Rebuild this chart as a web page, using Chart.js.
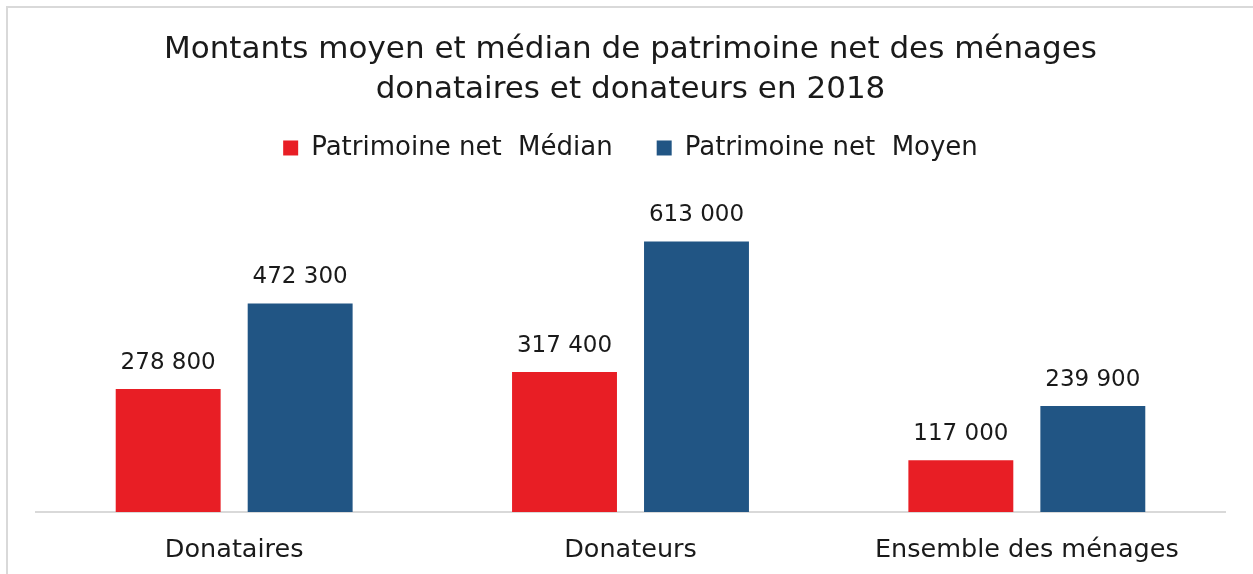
<!DOCTYPE html>
<html>
<head>
<meta charset="utf-8">
<script src="https://cdn.jsdelivr.net/npm/chart.js@4.4.1/dist/chart.umd.min.js"></script>
<style>
  html, body { margin: 0; padding: 0; background: #fff; overflow: hidden; }
  #frame { position: absolute; left: 6px; top: 6px; width: 1247px; height: 568px;
    border-left: 2px solid #d9d9d9; border-top: 2px solid #d9d9d9; box-sizing: border-box; }
  #wrap { position: absolute; left: 0; top: 0; width: 1253px; height: 574px; }
</style>
</head>
<body>
<div id="frame"></div>
<div id="wrap"><canvas id="chart"></canvas></div>
<script>
// categories et series
const categories = ['Donataires', 'Donateurs', 'Ensemble des ménages']
const medianValues = [278800, 317400, 117000]
const meanValues = [472300, 613000, 239900]
const seriesLabels = ['Patrimoine net  Médian', 'Patrimoine net  Moyen']
const titleLines = ['Montants moyen et médian de patrimoine net des ménages', 'donataires et donateurs en 2018']

const fontFamily = "'DejaVu Sans', sans-serif"
const textColor = '#1a1a1a'

const formatValue = v => String(v).replace(/\B(?=(\d{3})+(?!\d))/g, ' ')

// etiquettes de valeur au-dessus des barres
const valueLabels = {
  id: 'valueLabels',
  afterDatasetsDraw(chart) {
    const ctx = chart.ctx
    ctx.save()
    ctx.font = `23px ${fontFamily}`
    ctx.fillStyle = textColor
    ctx.textAlign = 'center'
    ctx.textBaseline = 'middle'
    chart.data.datasets.forEach((ds, i) => {
      chart.getDatasetMeta(i).data.forEach((bar, j) => {
        ctx.fillText(formatValue(ds.data[j]), bar.x, bar.y - 26)
      })
    })
    ctx.restore()
  }
}

// hauteur fixe de la legende
const legendHeight = {
  id: 'legendHeight',
  beforeInit(chart) {
    const legend = chart.legend
    if (!legend) return
    const fit = legend.fit
    legend.fit = function () {
      fit.call(this)
      this.height = 112
    }
  }
}

const config = {
  type: 'bar',
  data: {
    labels: categories,
    datasets: [
      {
        label: seriesLabels[0],
        data: medianValues,
        backgroundColor: '#e81e25',
        borderWidth: 0,
        categoryPercentage: 0.666,
        barPercentage: 0.795,
      },
      {
        label: seriesLabels[1],
        data: meanValues,
        backgroundColor: '#215584',
        borderWidth: 0,
        categoryPercentage: 0.666,
        barPercentage: 0.795,
      }
    ]
  },
  options: {
    responsive: false,
    animation: false,
    layout: { padding: { left: 36, right: 28, bottom: 0, top: 0 } },
    plugins: {
      title: {
        display: true,
        text: titleLines,
        color: textColor,
        font: { family: fontFamily, size: 31, weight: 'normal', lineHeight: 1.29 },
        padding: { top: 30, bottom: -19 },
      },
      legend: {
        position: 'top',
        labels: {
          color: textColor,
          font: { family: fontFamily, size: 26 },
          boxWidth: 15,
          boxHeight: 15,
          padding: 44,
        }
      },
      tooltip: { enabled: false },
    },
    scales: {
      x: {
        grid: { display: false },
        border: { color: '#d9d9d9', width: 2 },
        ticks: { color: textColor, font: { family: fontFamily, size: 25.5 }, padding: 15 },
        afterFit(scale) { scale.height = 62 },
      },
      y: {
        display: false,
        min: 0,
        max: 700000,
      }
    }
  },
  plugins: [valueLabels, legendHeight]
}

const canvas = document.getElementById('chart')
canvas.width = 1253
canvas.height = 574
const chart = new Chart(canvas.getContext('2d'), config)
</script>
</body>
</html>
